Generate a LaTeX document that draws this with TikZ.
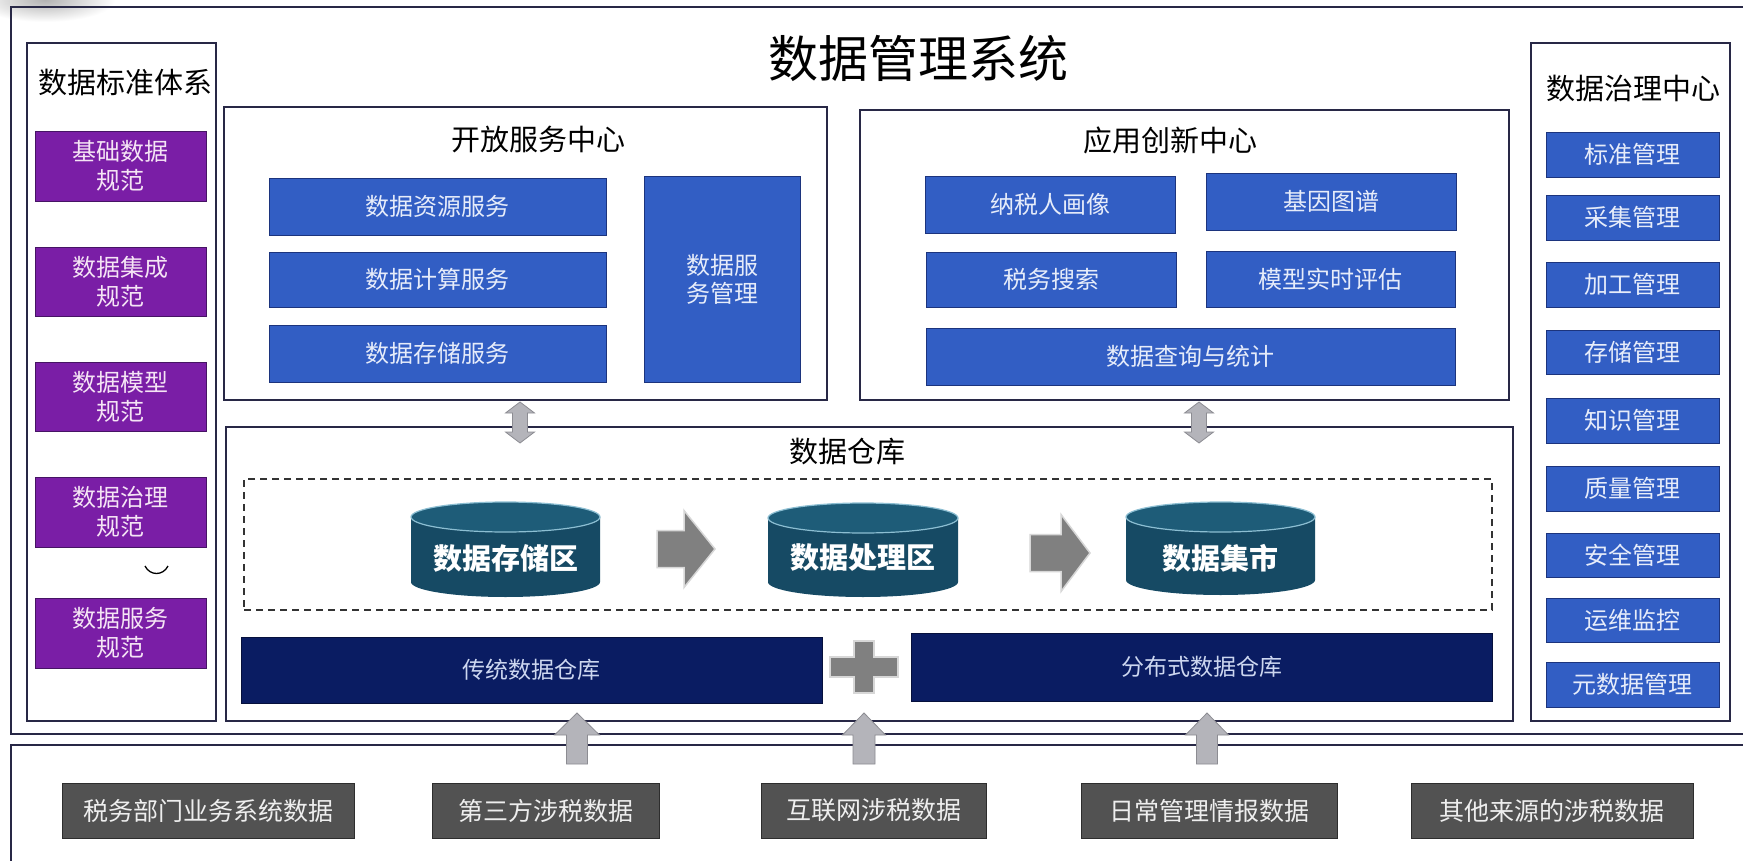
\documentclass[tikz,border=0pt]{standalone}
\usepackage{fontspec}
\setmainfont{Noto Sans CJK SC}
\usetikzlibrary{calc}
\definecolor{framec}{RGB}{40,40,70}
\definecolor{bluebox}{RGB}{50,94,196}
\definecolor{blueedge}{RGB}{28,52,125}
\definecolor{bluetext}{RGB}{230,236,250}
\definecolor{purplebox}{RGB}{122,30,166}
\definecolor{purpleedge}{RGB}{70,20,100}
\definecolor{purpletext}{RGB}{245,228,245}
\definecolor{navybox}{RGB}{10,28,98}
\definecolor{navyedge}{RGB}{6,16,60}
\definecolor{navytext}{RGB}{205,215,240}
\definecolor{graybox}{RGB}{82,82,82}
\definecolor{grayedge}{RGB}{45,45,45}
\definecolor{graytext}{RGB}{238,238,238}
\definecolor{cylbody}{RGB}{22,74,100}
\definecolor{cyltop}{RGB}{30,92,120}
\definecolor{cylrim}{RGB}{140,190,210}
\definecolor{arrowgray}{RGB}{128,128,128}
\definecolor{arrowrim}{RGB}{215,215,215}
\definecolor{arrowlight}{RGB}{180,180,186}
\definecolor{arrowedge}{RGB}{140,140,146}
\newcommand{\fsz}[1]{\fontsize{#1pt}{#1pt}\selectfont}
\newcommand{\mybox}[7]{\node[#1, anchor=north west, minimum width={#5pt-#3pt}, minimum height={#6pt-#4pt}] (#2) at (#3,#4) {#7};}
\newcommand{\mycyl}[6]{%
  \pgfmathsetmacro{\cylrx}{(#4-#2)/2}%
  \pgfmathsetmacro{\cylcx}{(#2+#4)/2}%
  \fill[cylbody] (#2,#3+15) -- (#2,#5-15) arc[start angle=180,end angle=360,x radius=\cylrx*1pt,y radius=15pt] -- (#4,#3+15) -- cycle;
  \filldraw[fill=cyltop, draw=cylrim, line width=1.2pt] (\cylcx,#3+15) ellipse [x radius=\cylrx*1pt, y radius=15pt];
  \node[cyltext] (#1) at (\cylcx,558) {#6};
}
\newcommand{\rarr}[6]{%
  \draw[blockarrow] (#1,#4-#5) -- (#2,#4-#5) -- (#2,#4-#6) -- (#3,#4) -- (#2,#4+#6) -- (#2,#4+#5) -- (#1,#4+#5) -- cycle;}
\newcommand{\uarr}[6]{%
  \draw[lightarrow] (#1,#2) -- (#1+#5,#3) -- (#1+#6,#3) -- (#1+#6,#4) -- (#1-#6,#4) -- (#1-#6,#3) -- (#1-#5,#3) -- cycle;}
\newcommand{\darr}[7]{%
  \draw[lightarrow] (#1,#2) -- (#1+#6,#3) -- (#1+#7,#3) -- (#1+#7,#4) -- (#1+#6,#4) -- (#1,#5) -- (#1-#6,#4) -- (#1-#7,#4) -- (#1-#7,#3) -- (#1-#6,#3) -- cycle;}
\tikzset{
  panel/.style={draw=framec, line width=1.3pt, fill=white, inner sep=0pt, outer sep=0pt},
  dashbx/.style={draw=black!80, line width=1.3pt, dash pattern=on 7pt off 5pt, inner sep=0pt, outer sep=0pt},
  bluebx/.style={draw=blueedge, line width=0.9pt, fill=bluebox, text=bluetext, font={\fontsize{24pt}{28pt}\selectfont}, inner sep=0pt, outer sep=0pt, align=center},
  purplebx/.style={draw=purpleedge, line width=0.9pt, fill=purplebox, text=purpletext, font={\fontsize{24pt}{29pt}\selectfont}, inner sep=0pt, outer sep=0pt, align=center},
  navybx/.style={draw=navyedge, line width=0.9pt, fill=navybox, text=navytext, font=\fsz{23}, inner sep=0pt, outer sep=0pt},
  graybx/.style={draw=grayedge, line width=1pt, fill=graybox, text=graytext, font=\fsz{25}, inner sep=0pt, outer sep=0pt},
  ttl/.style={font=\fsz{29}, text=black, inner sep=0pt},
  cyltext/.style={font=\fsz{29}\bfseries, text=white, inner sep=0pt},
  blockarrow/.style={fill=arrowgray, draw=arrowrim, line width=1.5pt, line join=miter},
  lightarrow/.style={fill=arrowlight, draw=arrowedge, line width=0.8pt, line join=miter},
  frameline/.style={draw=framec, line width=1.4pt},
}
\begin{document}
\begin{tikzpicture}[x=1pt,y=-1pt]
\useasboundingbox (0,0) rectangle (1743,861);
\fill[white] (0,0) rectangle (1743,861);
\begin{scope}
\clip (0,0) rectangle (120,30);
\shade[inner color=black!30, outer color=white] (45,0) ellipse [x radius=70pt, y radius=22pt];
\end{scope}
% outer frames
\draw[frameline] (1743,7) -- (11,7) -- (11,734) -- (1743,734);
\draw[frameline] (1743,745) -- (11,745) -- (11,861);
% main title
\node[font=\fsz{50}, inner sep=0pt] (maintitle) at (918,58) {数据管理系统};
% panels
\mybox{panel}{stdpanel}{27}{43}{216}{721}{}
\mybox{panel}{govpanel}{1531}{43}{1730}{721}{}
\mybox{panel}{openpanel}{224}{107}{827}{400}{}
\mybox{panel}{apppanel}{860}{110}{1509}{400}{}
\mybox{panel}{whpanel}{226}{427}{1513}{721}{}
% titles
\node[ttl] (stdtitle) at (125,83) {数据标准体系};
\node[ttl] (govtitle) at (1633,89) {数据治理中心};
\node[ttl] (opentitle) at (538,140) {开放服务中心};
\node[ttl] (apptitle) at (1170,140) {应用创新中心};
\node[ttl] (whtitle) at (847,452) {数据仓库};
% left standards
\mybox{purplebx}{s1}{35}{131}{206}{201}{基础数据\\规范}
\mybox{purplebx}{s2}{35}{247}{206}{316}{数据集成\\规范}
\mybox{purplebx}{s3}{35}{362}{206}{431}{数据模型\\规范}
\mybox{purplebx}{s4}{35}{477}{206}{547}{数据治理\\规范}
\mybox{purplebx}{s5}{35}{598}{206}{668}{数据服务\\规范}
\draw[line width=1.3pt] (145,566) .. controls (150,576) and (163,576) .. (168,566);
% right governance
\mybox{bluebx}{g1}{1546}{132}{1719}{177}{标准管理}
\mybox{bluebx}{g2}{1546}{195}{1719}{240}{采集管理}
\mybox{bluebx}{g3}{1546}{262}{1719}{307}{加工管理}
\mybox{bluebx}{g4}{1546}{330}{1719}{374}{存储管理}
\mybox{bluebx}{g5}{1546}{398}{1719}{443}{知识管理}
\mybox{bluebx}{g6}{1546}{466}{1719}{511}{质量管理}
\mybox{bluebx}{g7}{1546}{533}{1719}{577}{安全管理}
\mybox{bluebx}{g8}{1546}{598}{1719}{642}{运维监控}
\mybox{bluebx}{g9}{1546}{662}{1719}{707}{元数据管理}
% open service
\mybox{bluebx}{o1}{269}{178}{606}{235}{数据资源服务}
\mybox{bluebx}{o2}{269}{252}{606}{307}{数据计算服务}
\mybox{bluebx}{o3}{269}{325}{606}{382}{数据存储服务}
\mybox{bluebx}{o4}{644}{176}{800}{382}{数据服\\务管理}
% application innovation
\mybox{bluebx}{a1}{925}{176}{1175}{233}{纳税人画像}
\mybox{bluebx}{a2}{1206}{173}{1456}{230}{基因图谱}
\mybox{bluebx}{a3}{926}{252}{1176}{307}{税务搜索}
\mybox{bluebx}{a4}{1206}{251}{1455}{307}{模型实时评估}
\mybox{bluebx}{a5}{926}{328}{1455}{385}{数据查询与统计}
% double arrows
\darr{520}{402}{413}{432}{443}{14.5}{7.5}
\darr{1199}{402}{413}{432}{443}{14.5}{7.5}
% warehouse
\mybox{dashbx}{zone}{244}{479}{1492}{610}{}
\mycyl{c1}{411}{502}{600}{597}{数据存储区}
\mycyl{c2}{768}{503}{958}{597}{数据处理区}
\mycyl{c3}{1126}{502}{1315}{595}{数据集市}
\rarr{657}{684}{715}{549}{18.5}{38.5}
\rarr{1030}{1061}{1090}{553}{18.5}{38.5}
\mybox{navybx}{tradwh}{241}{637}{822}{703}{传统数据仓库}
\mybox{navybx}{distwh}{911}{633}{1492}{701}{分布式数据仓库}
\filldraw[blockarrow] (854,641) -- (874,641) -- (874,657) -- (898,657) -- (898,677) -- (874,677) -- (874,693) -- (854,693) -- (854,677) -- (830,677) -- (830,657) -- (854,657) -- cycle;
% up arrows
\uarr{577}{713}{735}{764}{22.5}{10.5}
\uarr{864}{713}{735}{764}{21.5}{11}
\uarr{1207}{713}{735}{764}{21.5}{10.5}
% sources
\mybox{graybx}{d1}{62}{783}{354}{838}{税务部门业务系统数据}
\mybox{graybx}{d2}{432}{783}{659}{838}{第三方涉税数据}
\mybox{graybx}{d3}{761}{783}{986}{838}{互联网涉税数据}
\mybox{graybx}{d4}{1081}{783}{1337}{838}{日常管理情报数据}
\mybox{graybx}{d5}{1411}{783}{1693}{838}{其他来源的涉税数据}
\end{tikzpicture}
\end{document}
